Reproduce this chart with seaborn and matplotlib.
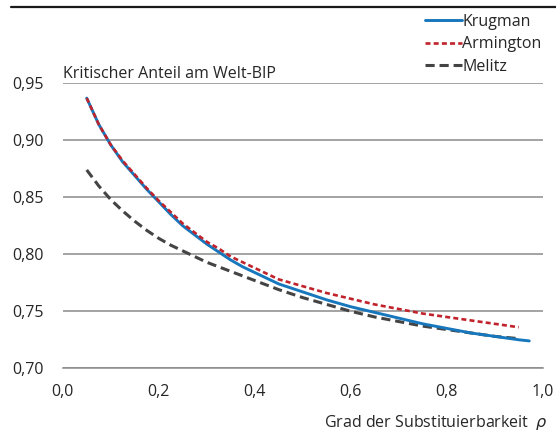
import pandas as pd
import matplotlib
matplotlib.use("Agg")
import matplotlib.pyplot as plt
import matplotlib.ticker as mticker
from matplotlib.lines import Line2D
import seaborn as sns

# Values
rho = [0.05, 0.075, 0.10, 0.125, 0.15, 0.175, 0.20, 0.225, 0.25, 0.275,
       0.30, 0.325, 0.35, 0.375, 0.40, 0.45, 0.50, 0.55, 0.60, 0.65,
       0.70, 0.75, 0.80, 0.85, 0.90, 0.95]
krugman = [0.937, 0.914, 0.896, 0.881, 0.869, 0.857, 0.846, 0.835, 0.825, 0.817,
           0.809, 0.802, 0.795, 0.789, 0.784, 0.774, 0.767, 0.760, 0.754, 0.749,
           0.744, 0.739, 0.735, 0.731, 0.728, 0.725]
armington = [0.937, 0.914, 0.896, 0.882, 0.870, 0.858, 0.847, 0.837, 0.827, 0.819,
             0.811, 0.805, 0.798, 0.793, 0.788, 0.778, 0.772, 0.766, 0.761, 0.756,
             0.752, 0.748, 0.745, 0.742, 0.739, 0.736]
melitz = [0.874, 0.860, 0.848, 0.838, 0.829, 0.821, 0.814, 0.808, 0.803, 0.798,
          0.793, 0.789, 0.785, 0.781, 0.777, 0.769, 0.762, 0.756, 0.750, 0.745,
          0.741, 0.737, 0.734, 0.731, 0.728, 0.726]
# Krugman runs a bit further to the right
krugman_x = rho + [0.972]
krugman = krugman + [0.724]

sns.set_style("white")
plt.rcParams['font.family'] = ['Open Sans', 'DejaVu Sans']

df_k = pd.DataFrame({'rho': krugman_x, 'share': krugman})
df_a = pd.DataFrame({'rho': rho, 'share': armington})
df_m = pd.DataFrame({'rho': rho, 'share': melitz})

fig = plt.figure(figsize=(5.56, 4.32), dpi=100)
ax = fig.add_axes([0.1128, 0.1475, 0.8633, 0.6597])

blue = "#1777bd"
red = "#c0232b"
grey = "#444444"
txt = "#262626"
fs = 11.5

red_ls = (0, (1.9, 1.2))
grey_ls = (0, (3.0, 1.6))

sns.lineplot(data=df_m, x='rho', y='share', ax=ax, color=grey, lw=2.2,
             linestyle=grey_ls, zorder=3)
sns.lineplot(data=df_k, x='rho', y='share', ax=ax, color=blue, lw=2.1, zorder=4)
sns.lineplot(data=df_a, x='rho', y='share', ax=ax, color=red, lw=1.9,
             linestyle=red_ls, zorder=5)

ax.set_xlim(0, 1.0)
ax.set_ylim(0.70, 0.95)
ax.set_xticks([0, 0.2, 0.4, 0.6, 0.8, 1.0])
ax.set_yticks([0.70, 0.75, 0.80, 0.85, 0.90, 0.95])
ax.yaxis.set_major_formatter(mticker.FuncFormatter(lambda v, p: f"{v:.2f}".replace('.', ',')))
ax.xaxis.set_major_formatter(mticker.FuncFormatter(lambda v, p: f"{v:.1f}".replace('.', ',')))

ax.grid(axis='y', color='#8a8a8a', lw=1.1)
ax.set_axisbelow(True)
for s in ['top', 'right', 'left']:
    ax.spines[s].set_visible(False)
ax.spines['bottom'].set_color('#8a8a8a')
ax.spines['bottom'].set_linewidth(1.1)
ax.tick_params(axis='x', direction='out', length=4, width=1.1, color='#8a8a8a',
               labelsize=fs, pad=7, labelcolor=txt)
ax.tick_params(axis='y', length=0, labelsize=fs, pad=14, labelcolor=txt)
ax.set_xlabel('')
ax.set_ylabel('')

ax.text(0, 1.0186, 'Kritischer Anteil am Welt-BIP', transform=ax.transAxes,
        ha='left', va='baseline', fontsize=fs, color=txt)
fig.text(0.986, 0.012, r'Grad der Substituierbarkeit  $\rho$', ha='right',
         va='baseline', fontsize=fs, color=txt)

handles = [Line2D([], [], color=blue, lw=2.1),
           Line2D([], [], color=red, lw=1.9, linestyle=red_ls),
           Line2D([], [], color=grey, lw=2.2, linestyle=grey_ls)]
fig.legend(handles, ['Krugman', 'Armington', 'Melitz'], loc='upper left',
           bbox_to_anchor=(0.764, 0.968), frameon=False, fontsize=fs,
           handlelength=2.3, handletextpad=0.05, labelspacing=0.4,
           borderaxespad=0, borderpad=0)

fig.add_artist(Line2D([0.019, 1.0], [0.983, 0.983], color='#1a1a1a', lw=1.6,
                      transform=fig.transFigure))

fig.savefig('out.png', dpi=100)
